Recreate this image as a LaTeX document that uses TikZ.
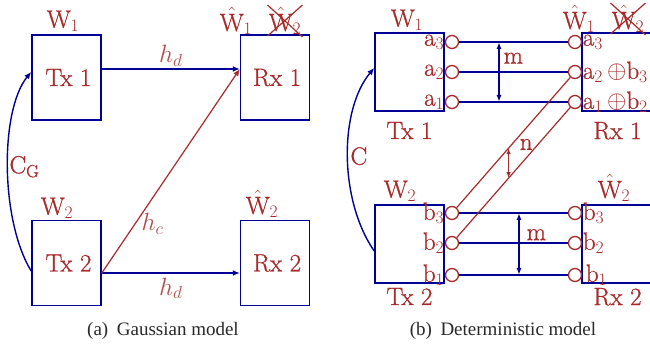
\documentclass[tikz,border=0pt]{standalone}
\usepackage{fix-cm}
\usepackage{amsmath}
\usepackage{fontspec}
\setmainfont{Latin Modern Roman}[FakeBold=0.8]
\newfontfamily\capfont{Liberation Serif}
\usepackage{xcolor}
\usetikzlibrary{arrows.meta,positioning,calc}

\definecolor{txtred}{RGB}{168,42,42}
\definecolor{linkblue}{RGB}{0,0,150}
\definecolor{capgray}{RGB}{40,40,40}
\newcommand\lblfont{\fontsize{25}{27}\selectfont}

\begin{document}
\begin{tikzpicture}[
  x=1pt, y=-1pt,
  box/.style={draw=linkblue, line width=1.6pt, minimum width=69pt, minimum height=85pt, inner sep=0pt, text=txtred, font=\lblfont},
  lbl/.style={text=txtred, font=\lblfont, inner sep=0pt},
  hlbl/.style={text=txtred!85, font=\lblfont, inner sep=2pt},
  port/.style={circle, draw=txtred, line width=1.3pt, minimum size=13pt, inner sep=0pt},
  plbl/.style={text=txtred, font=\lblfont, inner sep=0.5pt, label distance=0pt},
  barline/.style={draw=linkblue, line width=1.4pt},
  crossline/.style={draw=txtred, line width=1.2pt},
  blink/.style={-{Latex[length=7pt, width=6pt]}, draw=linkblue, line width=1.4pt},
  rlink/.style={-{Latex[length=7pt, width=6pt]}, draw=txtred, line width=1.2pt},
  dimblue/.style={{Latex[length=7pt, width=5pt]}-{Latex[length=7pt, width=5pt]}, draw=linkblue, line width=1.4pt},
  dimred/.style={{Latex[length=6pt, width=4.5pt]}-{Latex[length=6pt, width=4.5pt]}, draw=txtred, line width=1.2pt},
  captext/.style={text=capgray, font=\capfont\fontsize{19}{21}\selectfont, inner sep=0pt}
]
\useasboundingbox (0,0) rectangle (650,352);

% (a) Gaussian model
\node[box] (tx1) at (66.5,77.5) {\hspace{4pt}Tx 1};
\node[box, right=138pt of tx1] (rx1) {\hspace{4pt}Rx 1};
\node[box] (tx2) at (66.5,263) {\hspace{4pt}Tx 2};
\node[box, right=138pt of tx2] (rx2) {\hspace{4pt}Rx 2};

\node[lbl] (w1) at (63,21) {$\mathrm{W}_1$};
\node[lbl] (hw1) at (236,21) {$\hat{\mathrm{W}}_1$};
\node[lbl] (hw2) at (285,21) {$\hat{\mathrm{W}}_2$};
\draw[crossline] ([shift={(-1pt,2pt)}]hw2.north west) -- ([shift={(1pt,-2pt)}]hw2.south east);
\draw[crossline] ([shift={(-1pt,-1pt)}]hw2.south west) -- ([shift={(1pt,2pt)}]hw2.north east);
\node[lbl] (w2) at (57,208) {$\mathrm{W}_2$};
\node[lbl] (hw2b) at (262,204) {$\hat{\mathrm{W}}_2$};

\draw[blink] ([yshift=8.5pt]tx1.east) -- node[hlbl, above] {$h_d$} ([yshift=8.5pt]rx1.west);
\draw[blink] ([yshift=-10pt]tx2.east) -- node[hlbl, below=2pt] {$h_d$} ([yshift=-10pt]rx2.west);
\draw[rlink] ([yshift=-10pt]tx2.east) -- node[hlbl, pos=0.24, right=4pt] {$h_c$} ([yshift=8.5pt]rx1.west);
\draw[blink] ([yshift=-8pt]tx2.west) .. controls (0,220) and (0,110) .. node[lbl, pos=0.5, right=1pt] {$\mathrm{C}_\mathrm{G}$} ([yshift=5.5pt]tx1.west);

\node[captext] (capa) at (163,331) {(a)\hspace{0.45em}Gaussian model};

% (b) Deterministic model
\node[box, minimum height=78pt] (tx1d) at (409.5,72) {};
\node[box, minimum width=71pt, minimum height=78pt] (rx1d) at (617.5,72) {};
\node[box, minimum height=78pt] (tx2d) at (409.5,244) {};
\node[box, minimum width=71pt, minimum height=78pt] (rx2d) at (617.5,244) {};

\node[port, label={[plbl]left:$\mathrm{a}_3$}] (pa3) at (452,42) {};
\node[port, label={[plbl]left:$\mathrm{a}_2$}] (pa2) at (452,72) {};
\node[port, label={[plbl]left:$\mathrm{a}_1$}] (pa1) at (452,102) {};
\node[port, label={[plbl]right:$\mathrm{a}_3$}] (qa3) at (575,42) {};
\node[port, label={[plbl]right:$\mathrm{a}_2\,{\oplus}\mathrm{b}_3$}] (qa2) at (575,72) {};
\node[port, label={[plbl]right:$\mathrm{a}_1\,{\oplus}\mathrm{b}_2$}] (qa1) at (575,102) {};

\node[port, label={[plbl]left:$\mathrm{b}_3$}] (pb3) at (452,213) {};
\node[port, label={[plbl]left:$\mathrm{b}_2$}] (pb2) at (452,243) {};
\node[port, label={[plbl]left:$\mathrm{b}_1$}] (pb1) at (452,275) {};
\node[port, label={[plbl]right:$\mathrm{b}_3$}] (qb3) at (575,213) {};
\node[port, label={[plbl]right:$\mathrm{b}_2$}] (qb2) at (575,243) {};
\node[port, label={[plbl, xshift=3pt]right:$\mathrm{b}_1$}] (qb1) at (575,275) {};

\node[lbl] (w1d) at (407,20) {$\mathrm{W}_1$};
\node[lbl] (hw1d) at (579,19) {$\hat{\mathrm{W}}_1$};
\node[lbl] (hw2d) at (628,19) {$\hat{\mathrm{W}}_2$};
\draw[crossline] ([shift={(-1pt,2pt)}]hw2d.north west) -- ([shift={(1pt,-2pt)}]hw2d.south east);
\draw[crossline] ([shift={(-1pt,-1pt)}]hw2d.south west) -- ([shift={(1pt,2pt)}]hw2d.north east);
\node[lbl, below=10pt of tx1d] (tx1dname) {Tx 1};
\node[lbl, below=10pt of rx1d] (rx1dname) {Rx 1};
\node[lbl] (w2d) at (400,191) {$\mathrm{W}_2$};
\node[lbl] (hw2e) at (614,188) {$\hat{\mathrm{W}}_2$};
\node[lbl, below=4pt of tx2d] (tx2dname) {Tx 2};
\node[lbl, below=4pt of rx2d] (rx2dname) {Rx 2};

\draw[barline] (pa3) -- (qa3);
\draw[barline] (pa2) -- (qa2);
\draw[barline] (pa1) -- (qa1);
\draw[barline] (pb3) -- (qb3);
\draw[barline] (pb2) -- (qb2);
\draw[barline] (pb1) -- (qb1);
\draw[crossline] (pb3) -- (qa2);
\draw[crossline] (pb2) -- (qa1);

\coordinate (mxa) at (499,0);
\coordinate (mxb) at (519,0);
\draw[dimblue] (mxa |- pa3) -- node[lbl, pos=0.27, right=4pt] {m} (mxa |- pa1);
\draw[dimblue] (mxb |- pb3) -- node[lbl, pos=0.35, right=7pt] {m} (mxb |- pb1);
\coordinate (ntop) at ($(pb3)!0.46!(qa2)$);
\coordinate (nbot) at ($(pb2)!0.46!(qa1)$);
\draw[dimred] (ntop) -- (nbot);
\node[lbl, above right=-2pt and 11pt of ntop] (nname) {n};
\draw[blink] ([yshift=-7pt]tx2d.west) .. controls (339,200) and (339,110) .. node[lbl, pos=0.5, right=2pt] {C} ([yshift=4pt]tx1d.west);

\node[captext] (capb) at (503,331) {(b)\hspace{0.45em}Deterministic model};
\end{tikzpicture}
\end{document}
